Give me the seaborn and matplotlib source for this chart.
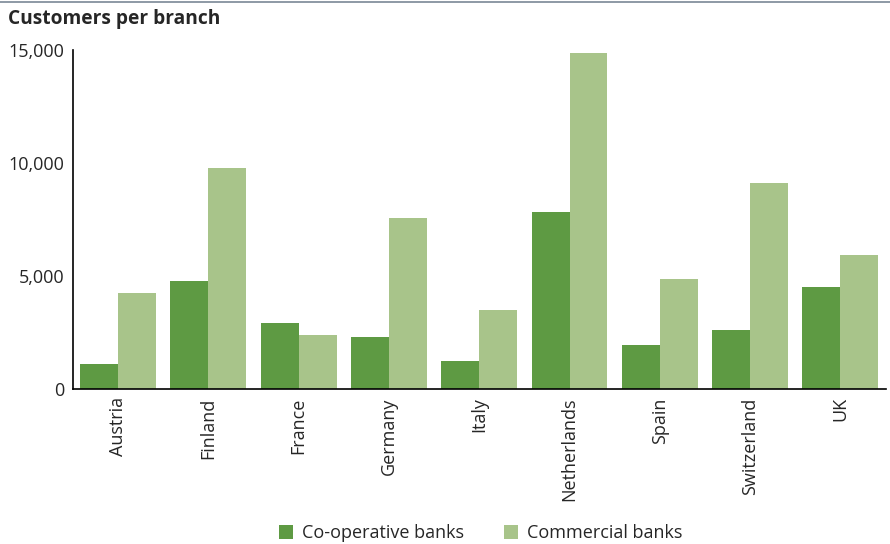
import matplotlib
matplotlib.use("Agg")
import matplotlib.pyplot as plt
import seaborn as sns
import pandas as pd
from matplotlib.patches import Patch
from matplotlib.lines import Line2D

countries = ["Austria", "Finland", "France", "Germany", "Italy", "Netherlands", "Spain", "Switzerland", "UK"]
coop = [1100, 4800, 2900, 2300, 1250, 7850, 1950, 2600, 4500]
commercial = [4250, 9800, 2400, 7550, 3500, 14850, 4850, 9100, 5950]
series = ["Co-operative banks", "Commercial banks"]
colors = ["#5e9a43", "#a8c48a"]

df = pd.DataFrame({
    "country": countries * 2,
    "value": coop + commercial,
    "series": [series[0]] * len(countries) + [series[1]] * len(countries),
})

sns.set_style("white")
plt.rcParams["font.family"] = ["Open Sans", "DejaVu Sans"]

fig = plt.figure(figsize=(8.9, 5.44), dpi=100)
ax = fig.add_axes([0.082, 0.285, 0.913, 0.623])
sns.barplot(data=df, x="country", y="value", hue="series", palette=colors,
            ax=ax, width=0.84, saturation=1, legend=False, linewidth=0, edgecolor="none")
ax.set_ylim(0, 15000)
ax.set_yticks([0, 5000, 10000, 15000])
ax.set_yticklabels(["0", "5,000", "10,000", "15,000"], fontsize=13)
ax.set_xticks(range(len(countries)))
ax.set_xticklabels(countries, rotation=90, fontsize=13)
ax.set_xlabel("")
ax.set_ylabel("")
ax.tick_params(axis="both", length=0, pad=6)
for s in ["top", "right"]:
    ax.spines[s].set_visible(False)
for s in ["left", "bottom"]:
    ax.spines[s].set_color("black")
    ax.spines[s].set_linewidth(1.2)
ax.set_xlim(-0.5, len(countries) - 0.5)

fig.text(0.009, 0.965, "Customers per branch", fontsize=13.8, fontweight="bold", va="center", ha="left")
fig.add_artist(Line2D([0, 1], [0.996, 0.996], color="#7a8896", lw=1.2, transform=fig.transFigure))

handles = [Patch(facecolor=c, edgecolor="none") for c in colors]
fig.legend(handles, series, loc="center", bbox_to_anchor=(0.54, 0.02), ncol=2, frameon=False,
           fontsize=13, handlelength=0.8, handleheight=0.8, columnspacing=2.2, handletextpad=0.5)

fig.savefig("out.png", dpi=100)
